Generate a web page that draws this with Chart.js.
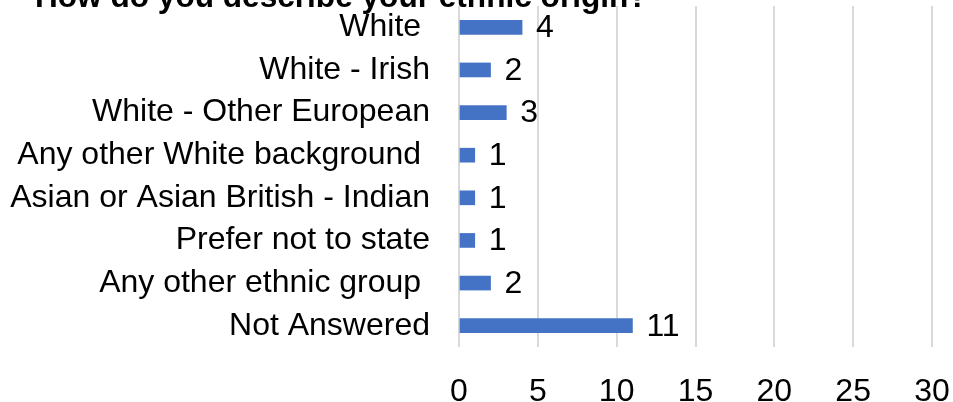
<!DOCTYPE html>
<html>
<head>
<meta charset="utf-8">
<script src="https://cdn.jsdelivr.net/npm/chart.js@4"></script>
<style>
html,body{margin:0;padding:0;background:#fff;overflow:hidden}
#wrap{position:relative;width:953px;height:402px}
</style>
</head>
<body>
<div id="wrap"><canvas id="chart" width="953" height="402"></canvas></div>
<script>
const title='How do you describe your ethnic origin?';
const categories=['White ','White - Irish','White - Other European','Any other White background ','Asian or Asian British - Indian','Prefer not to state','Any other ethnic group ','Not Answered'];
const counts=[4,2,3,1,1,1,2,11];
const xTicks=[0,5,10,15,20,25,30];

const FONT='"Liberation Sans", Arial, sans-serif';

// value labels next to each bar
const valueLabels={id:'valueLabels',afterDatasetsDraw(chart){
  const ctx=chart.ctx;const meta=chart.getDatasetMeta(0);
  ctx.save();ctx.font='32px '+FONT;ctx.fillStyle='#000';
  ctx.textAlign='left';ctx.textBaseline='middle';
  meta.data.forEach((bar,i)=>{ctx.fillText(String(counts[i]),bar.x+14,bar.y+1);});
  ctx.restore();
}};

// title sits half off the top edge, as in the original
const topTitle={id:'topTitle',afterDraw(chart){
  const ctx=chart.ctx;ctx.save();
  ctx.font='bold 31.6px '+FONT;ctx.fillStyle='#000';
  ctx.textAlign='left';ctx.textBaseline='alphabetic';
  ctx.fillText(title,35,7);
  ctx.restore();
}};

new Chart(document.getElementById('chart').getContext('2d'),{
  type:'bar',
  data:{labels:categories,datasets:[{data:counts,backgroundColor:'#4472C4',barThickness:14}]},
  options:{
    indexAxis:'y',responsive:false,animation:false,
    layout:{padding:{top:6,right:21,left:0,bottom:0}},
    plugins:{legend:{display:false},tooltip:{enabled:false},title:{display:false}},
    scales:{
      x:{min:0,max:30,
        afterBuildTicks(s){s.ticks=xTicks.map(v=>({value:v}));},
        afterFit(s){s.height=55;s.paddingLeft=0;s.paddingRight=0;s.paddingTop=0;s.paddingBottom=0;},
        grid:{color:'#d9d9d9',lineWidth:2,drawTicks:false},
        border:{display:false},
        ticks:{color:'#000',font:{size:32,family:FONT},padding:26,maxRotation:0}},
      y:{afterFit(s){s.width=459;s.paddingTop=0;s.paddingBottom=0;s.paddingLeft=0;s.paddingRight=0;},
        grid:{display:false,drawTicks:false},border:{display:false},
        ticks:{color:'#000',font:{size:32,family:FONT},padding:29,autoSkip:false}}
    }
  },
  plugins:[valueLabels,topTitle]
});
</script>
</body>
</html>
